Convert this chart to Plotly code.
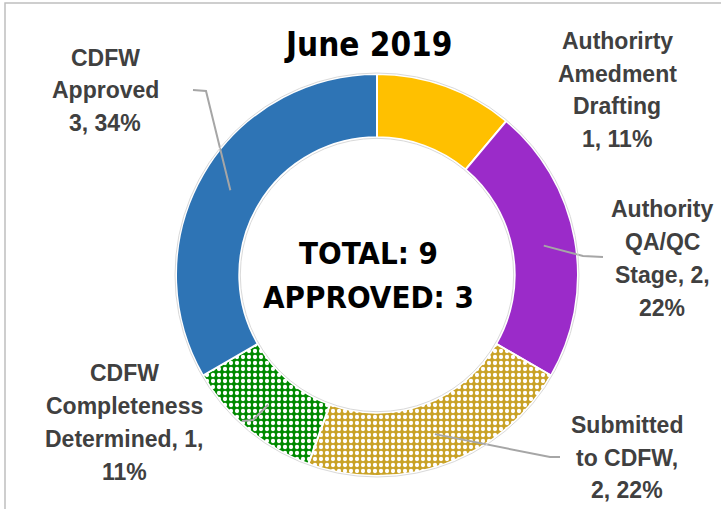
import math
import plotly.graph_objects as go

# ---- data ----
categories = ["Authoirty Amedment Drafting", "Authority QA/QC Stage", "Submitted to CDFW",
              "CDFW Completeness Determined", "CDFW Approved"]
counts = [1, 2, 2, 1, 3]
percent_labels = ["11%", "22%", "22%", "11%", "34%"]
label_lines = [
    ["Authorirty", "Amedment", "Drafting", "1, 11%"],
    ["Authority", "QA/QC", "Stage, 2,", "22%"],
    ["Submitted", "to CDFW,", "2, 22%"],
    ["CDFW", "Completeness", "Determined, 1,", "11%"],
    ["CDFW", "Approved", "3, 34%"],
]
title_text = "June 2019"
total = sum(counts)
approved = counts[-1]
center_lines = [f"TOTAL: {total}", f"APPROVED: {approved}"]

# ---- style ----
colors = ["#FFC000", "#9B2BC9", "#C9A227", "#008A00", "#2E74B5"]
patterns = ["", "", ".", ".", ""]
W, H = 721, 509
CX, CY, R = 377, 275, 201
HOLE = 0.685
TEXT_GRAY = "#404040"
LABEL_FONT = "Liberation Sans, Arial, sans-serif"
NARROW_FONT = "DejaVu Sans Condensed, Liberation Sans Narrow, Arial Narrow, sans-serif"

# label layout: center x, first-line y (px), line spacing
label_pos = [(617, 41, 32.5), (662, 209, 33), (627, 425, 32.5), (124, 373, 33), (105, 58, 32.5)]
# leader elbows (px) for each slice (None = no leader)
leader_elbows = [None, [(583, 256), (603, 257)], [(550, 457), (560, 457)],
                 [(253, 420), (242, 421)], [(206, 91), (193, 90)]]


def px(x):
    return x / W


def py(y):
    return 1 - y / H


fig = go.Figure(go.Pie(
    labels=categories,
    values=counts,
    sort=False,
    direction="clockwise",
    rotation=0,
    hole=HOLE,
    textinfo="none",
    hoverinfo="label+value+percent",
    marker=dict(
        colors=colors,
        line=dict(color="white", width=2),
        pattern=dict(shape=patterns, fgcolor="white", bgcolor=colors,
                     size=6, solidity=0.4, fillmode="replace"),
    ),
    domain=dict(x=[px(CX - R), px(CX + R)], y=[py(CY + R), py(CY - R)]),
    showlegend=False,
))

annotations = []
shapes = []

# title
annotations.append(dict(text=f"<b>{title_text}</b>", x=px(368), y=py(44), xref="paper", yref="paper",
                        showarrow=False, xanchor="center", yanchor="middle",
                        font=dict(family=NARROW_FONT, size=33, color="black")))
# center text
for txt, yy in zip(center_lines, [253, 297]):
    annotations.append(dict(text=f"<b>{txt}</b>", x=px(368), y=py(yy), xref="paper", yref="paper",
                            showarrow=False, xanchor="center", yanchor="middle",
                            font=dict(family=NARROW_FONT, size=31, color="black")))

# slice labels
for lines, (lx, ly, sp) in zip(label_lines, label_pos):
    for i, ln in enumerate(lines):
        annotations.append(dict(text=f"<b>{ln}</b>", x=px(lx), y=py(ly + i * sp), xref="paper", yref="paper",
                                showarrow=False, xanchor="center", yanchor="middle",
                                font=dict(family=LABEL_FONT, size=23, color=TEXT_GRAY)))

# leader lines from mid-ring of each slice
cum = 0
mid_r = R * (1 + HOLE) / 2
for v, elb in zip(counts, leader_elbows):
    ang = (cum + v / 2) / total * 2 * math.pi
    cum += v
    if elb is None:
        continue
    sx = CX + mid_r * math.sin(ang)
    sy = CY - mid_r * math.cos(ang)
    pts = [(sx, sy)] + elb
    path = "M " + " L ".join(f"{px(a)},{py(b)}" for a, b in pts)
    shapes.append(dict(type="path", path=path, xref="paper", yref="paper",
                       line=dict(color="#A6A6A6", width=2)))

# thin outer/inner ring outline
for rr in (R + 1, R * HOLE - 1):
    shapes.append(dict(type="circle", xref="paper", yref="paper",
                       x0=px(CX - rr), x1=px(CX + rr), y0=py(CY + rr), y1=py(CY - rr),
                       line=dict(color="#D9D9D9", width=1)))

# chart frame (top and left edges visible)
shapes.append(dict(type="rect", xref="paper", yref="paper",
                   x0=px(5), x1=px(W + 10), y0=py(H + 10), y1=py(3),
                   line=dict(color="#BFBFBF", width=1.5), fillcolor="rgba(0,0,0,0)"))

fig.update_layout(
    width=W, height=H,
    margin=dict(l=0, r=0, t=0, b=0),
    paper_bgcolor="white",
    plot_bgcolor="white",
    annotations=annotations,
    shapes=shapes,
)

fig.write_html("out.html", config={"displayModeBar": False},
               post_script="document.body.style.margin='0';document.body.style.overflow='hidden';")
